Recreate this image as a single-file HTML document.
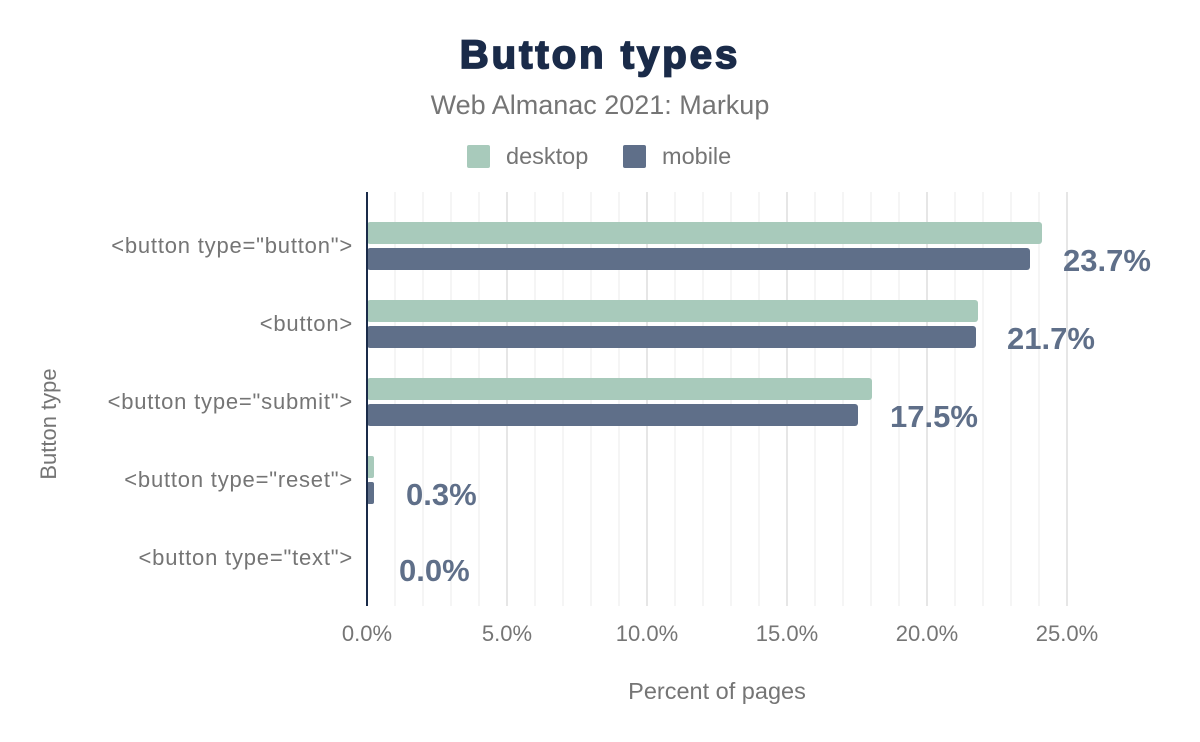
<!DOCTYPE html>
<html><head><style>
body{margin:0;background:#fff;}
svg{display:block;font-family:"Liberation Sans",sans-serif;}
</style></head><body>
<svg width="1200" height="742" viewBox="0 0 1200 742">
<rect width="1200" height="742" fill="#fff"/>
<text x="600" y="68" text-anchor="middle" font-size="40" font-weight="bold" fill="#1a2b49" stroke="#1a2b49" stroke-width="1.8" letter-spacing="3">Button types</text>
<text x="600" y="114" text-anchor="middle" font-size="27" fill="#757575">Web Almanac 2021: Markup</text>
<rect x="467" y="145" width="23" height="23" rx="2" fill="#a8cabb"/>
<text x="506" y="164" font-size="23.5" fill="#757575">desktop</text>
<rect x="623" y="145" width="23" height="23" rx="2" fill="#5f6f89"/>
<text x="662" y="164" font-size="23.5" fill="#757575">mobile</text>
<g stroke="#f2f2f2" stroke-width="1.5">
<line x1="395" y1="192" x2="395" y2="606"/><line x1="423" y1="192" x2="423" y2="606"/><line x1="451" y1="192" x2="451" y2="606"/><line x1="479" y1="192" x2="479" y2="606"/>
<line x1="535" y1="192" x2="535" y2="606"/><line x1="563" y1="192" x2="563" y2="606"/><line x1="591" y1="192" x2="591" y2="606"/><line x1="619" y1="192" x2="619" y2="606"/>
<line x1="675" y1="192" x2="675" y2="606"/><line x1="703" y1="192" x2="703" y2="606"/><line x1="731" y1="192" x2="731" y2="606"/><line x1="759" y1="192" x2="759" y2="606"/>
<line x1="815" y1="192" x2="815" y2="606"/><line x1="843" y1="192" x2="843" y2="606"/><line x1="871" y1="192" x2="871" y2="606"/><line x1="899" y1="192" x2="899" y2="606"/>
<line x1="955" y1="192" x2="955" y2="606"/><line x1="983" y1="192" x2="983" y2="606"/><line x1="1011" y1="192" x2="1011" y2="606"/><line x1="1039" y1="192" x2="1039" y2="606"/>
</g>
<g stroke="#e6e6e6" stroke-width="2">
<line x1="507" y1="192" x2="507" y2="606"/><line x1="647" y1="192" x2="647" y2="606"/><line x1="787" y1="192" x2="787" y2="606"/><line x1="927" y1="192" x2="927" y2="606"/><line x1="1067" y1="192" x2="1067" y2="606"/>
</g>
<g fill="#a8cabb">
<rect x="367" y="222" width="675" height="22" rx="3"/>
<rect x="367" y="300" width="611" height="22" rx="3"/>
<rect x="367" y="378" width="505" height="22" rx="3"/>
<rect x="367" y="456" width="7" height="22" rx="2"/>
</g>
<g fill="#5f6f89">
<rect x="367" y="248" width="663" height="22" rx="3"/>
<rect x="367" y="326" width="609" height="22" rx="3"/>
<rect x="367" y="404" width="491" height="22" rx="3"/>
<rect x="367" y="482" width="7" height="22" rx="2"/>
</g>
<line x1="367" y1="192" x2="367" y2="606" stroke="#1a2b49" stroke-width="2"/>
<g font-size="31" font-weight="bold" fill="#5f6f89">
<text x="1063" y="271">23.7%</text>
<text x="1007" y="349">21.7%</text>
<text x="890" y="427">17.5%</text>
<text x="406" y="505">0.3%</text>
<text x="399" y="581">0.0%</text>
</g>
<g font-size="22" fill="#757575" text-anchor="end" letter-spacing="0.8">
<text x="353" y="253">&lt;button type="button"&gt;</text>
<text x="353" y="331">&lt;button&gt;</text>
<text x="353" y="409">&lt;button type="submit"&gt;</text>
<text x="353" y="487">&lt;button type="reset"&gt;</text>
<text x="353" y="565">&lt;button type="text"&gt;</text>
</g>
<g font-size="22" fill="#757575" text-anchor="middle">
<text x="367" y="641">0.0%</text><text x="507" y="641">5.0%</text><text x="647" y="641">10.0%</text><text x="787" y="641">15.0%</text><text x="927" y="641">20.0%</text><text x="1067" y="641">25.0%</text>
<text x="717" y="699" font-size="23.5">Percent of pages</text>
</g>
<text transform="translate(56,424) rotate(-90)" font-size="22" fill="#757575" text-anchor="middle">Button type</text>
</svg>
</body></html>
